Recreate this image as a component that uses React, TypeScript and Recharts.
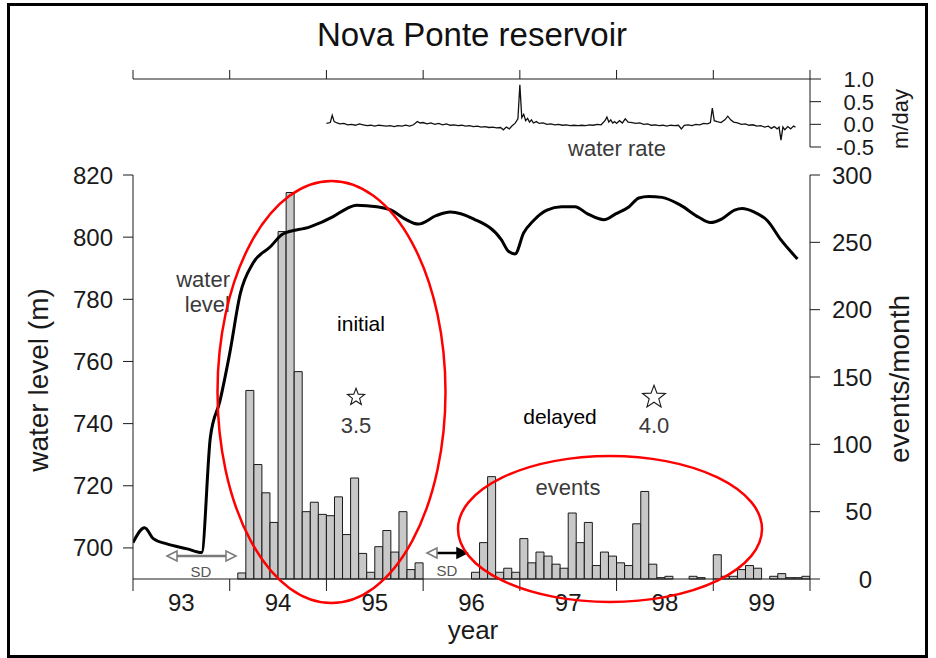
import React from "react";
import { ComposedChart, LineChart, Line, Bar, Scatter, XAxis, YAxis } from "recharts";

// monthly event counts; each list starts at the month noted
const events1994 = [4.5, 140, 85, 64, 42, 258, 287, 154, 50, 57, 48]; // Feb-Dec
const events1995 = [47, 61, 33, 75, 19, 5, 24, 36, 20, 50, 7, 12];
const events1996 = [5, 27, 76, 5, 8, 5]; // Jul-Dec
const events1997 = [30, 12, 20, 17, 11, 8, 49, 27, 42, 10, 20, 17];
const events1998 = [12, 10, 41, 65, 11, 1, 2, 0, 0, 2, 1, 0];
const events1999 = [18, 2, 2, 7, 10, 8, 0, 2, 4, 1, 1, 2];

// reservoir water level [decimal year, metres]
const waterLevel: [number, number][] = [
  [1993.0, 701.7], [1993.12, 706.5], [1993.21, 703.0], [1993.35, 701.3],
  [1993.56, 699.7], [1993.71, 698.5], [1993.8, 735.6], [1993.9, 747.4],
  [1994.0, 762.6], [1994.11, 781.9], [1994.24, 791.6], [1994.42, 796.9],
  [1994.55, 801.0], [1994.83, 803.3], [1995.07, 806.6], [1995.21, 809.2],
  [1995.31, 810.3], [1995.52, 809.8], [1995.67, 808.7], [1995.81, 805.9],
  [1995.95, 804.2], [1996.14, 807.0], [1996.28, 808.1], [1996.52, 805.9],
  [1996.81, 799.1], [1996.88, 795.5], [1996.95, 794.6], [1997.04, 801.4],
  [1997.14, 805.3], [1997.28, 808.7], [1997.43, 809.8], [1997.57, 809.8],
  [1997.7, 807.5], [1997.87, 805.6], [1997.99, 807.5], [1998.13, 809.8],
  [1998.23, 812.6], [1998.33, 813.1], [1998.47, 812.8], [1998.66, 810.3],
  [1998.85, 806.4], [1998.97, 804.7], [1999.09, 805.9], [1999.22, 808.7],
  [1999.3, 809.2], [1999.42, 808.1], [1999.56, 805.3], [1999.7, 799.1],
  [1999.87, 793.0],
];

// rate of water level change [decimal year, m/day]
const waterRate: [number, number][] = [
  [1995.0, 0.02], [1995.04, 0.04], [1995.06, 0.2], [1995.08, 0.06], [1995.11, 0.03],
  [1995.14, 0.01], [1995.18, 0.02], [1995.22, -0.01], [1995.26, 0.0], [1995.3, -0.02],
  [1995.34, 0.01], [1995.38, -0.01], [1995.42, -0.03], [1995.46, -0.02], [1995.5, -0.04],
  [1995.54, -0.02], [1995.58, -0.03], [1995.62, -0.04], [1995.66, -0.03], [1995.7, -0.05],
  [1995.74, -0.03], [1995.78, -0.04], [1995.82, -0.02], [1995.86, -0.04], [1995.9, -0.01],
  [1995.94, 0.06], [1995.97, 0.03], [1996.0, 0.04], [1996.04, 0.01], [1996.08, 0.03],
  [1996.12, 0.0], [1996.16, 0.02], [1996.2, -0.01], [1996.24, 0.01], [1996.28, -0.02],
  [1996.32, -0.01], [1996.36, -0.03], [1996.4, -0.02], [1996.44, -0.04], [1996.48, -0.03],
  [1996.52, -0.05], [1996.56, -0.04], [1996.6, -0.06], [1996.64, -0.05], [1996.68, -0.07],
  [1996.72, -0.06], [1996.76, -0.08], [1996.8, -0.07], [1996.83, -0.12], [1996.86, -0.06],
  [1996.89, -0.1], [1996.92, -0.03], [1996.95, 0.02], [1996.98, 0.12], [1997.0, 0.87],
  [1997.02, 0.15], [1997.04, 0.22], [1997.06, 0.08], [1997.08, 0.13], [1997.1, 0.05],
  [1997.12, 0.1], [1997.14, 0.03], [1997.17, 0.06], [1997.2, 0.02], [1997.24, 0.03],
  [1997.28, 0.0], [1997.32, 0.01], [1997.36, -0.01], [1997.4, 0.0], [1997.44, -0.02],
  [1997.48, -0.01], [1997.52, -0.03], [1997.56, -0.02], [1997.6, -0.03], [1997.64, -0.02],
  [1997.68, -0.03], [1997.72, -0.01], [1997.76, -0.02], [1997.8, 0.0], [1997.84, -0.01],
  [1997.88, 0.08], [1997.9, 0.16], [1997.92, 0.05], [1997.94, 0.1], [1997.96, 0.03],
  [1997.98, 0.06], [1998.0, 0.02], [1998.03, 0.08], [1998.06, 0.03], [1998.09, 0.12],
  [1998.12, 0.05], [1998.16, 0.04], [1998.2, 0.02], [1998.24, 0.03], [1998.28, 0.0],
  [1998.32, 0.01], [1998.36, -0.02], [1998.4, -0.01], [1998.44, -0.03], [1998.48, -0.02],
  [1998.52, -0.04], [1998.56, -0.02], [1998.6, -0.03], [1998.64, -0.02], [1998.67, -0.1],
  [1998.7, -0.02], [1998.74, -0.01], [1998.78, -0.03], [1998.82, 0.0], [1998.86, -0.01],
  [1998.9, 0.02], [1998.94, 0.01], [1998.97, 0.04], [1998.99, 0.36], [1999.01, 0.08],
  [1999.04, 0.06], [1999.08, 0.04], [1999.12, 0.1], [1999.15, 0.18], [1999.18, 0.1],
  [1999.21, 0.05], [1999.25, 0.03], [1999.29, 0.0], [1999.33, 0.01], [1999.37, -0.02],
  [1999.41, -0.01], [1999.45, -0.04], [1999.49, -0.03], [1999.53, -0.06], [1999.57, -0.04],
  [1999.6, -0.09], [1999.63, -0.05], [1999.66, -0.1], [1999.68, -0.06], [1999.7, -0.35],
  [1999.72, -0.06], [1999.74, -0.12], [1999.77, -0.05], [1999.8, -0.1], [1999.83, -0.04],
  [1999.85, -0.06],
];

// largest events: [decimal year, marker height in events/month, magnitude]
const bigEvents: [number, number, number][] = [
  [1995.306, 135, 3.5],
  [1998.387, 135, 4.0],
];

const yearTicks = [1993, 1994, 1995, 1996, 1997, 1998, 1999, 2000];
const yearLabels = ["93", "94", "95", "96", "97", "98", "99"];
const levelTicks = [700, 720, 740, 760, 780, 800, 820];
const eventTicks = [0, 50, 100, 150, 200, 250, 300];
const rateTicks = [-0.5, 0, 0.5, 1];

const FONT = "'Liberation Sans', Arial, Helvetica, sans-serif";
const INK = "#1a1a1a";
const GREY = "#3a3a3a";
const W = 936;
const H = 658;
const PLOT_LEFT = 133;
const PLOT_RIGHT = 810;
const HALF_YEAR = (PLOT_RIGHT - PLOT_LEFT) / 7 / 2;

const monthly = (year: number, firstMonth: number, counts: number[]) =>
  counts.map((n, i) => ({ t: year + (firstMonth - 1 + i + 0.5) / 12, ev: n }));

const eventRows = [
  ...monthly(1994, 2, events1994),
  ...monthly(1995, 1, events1995),
  ...monthly(1996, 7, events1996),
  ...monthly(1997, 1, events1997),
  ...monthly(1998, 1, events1998),
  ...monthly(1999, 1, events1999),
];
const levelRows = waterLevel.map(([t, level]) => ({ t, level }));
const rateRows = waterRate.map(([t, rate]) => ({ t, rate }));
const starRows = bigEvents.map(([t, ev, mag]) => ({ t, ev, mag }));

// year labels sit in the middle of each year, between the ticks
function YearLabel(props: any) {
  const { x, payload } = props;
  const i = yearTicks.indexOf(payload.value);
  if (i < 0 || i >= yearLabels.length) return <g />;
  return (
    <text x={x + HALF_YEAR} y={611} textAnchor="middle" fontSize={24} fill={INK} fontFamily={FONT}>
      {yearLabels[i]}
    </text>
  );
}

function EventsTick(props: any) {
  const { y, payload } = props;
  return (
    <text x={872} y={y} dy="0.36em" textAnchor="end" fontSize={24} fill={INK} fontFamily={FONT}>
      {payload.value}
    </text>
  );
}

function RateTick(props: any) {
  const { y, payload } = props;
  return (
    <text x={874} y={y} dy="0.36em" textAnchor="end" fontSize={22} fill={INK} fontFamily={FONT}>
      {Number(payload.value).toFixed(1)}
    </text>
  );
}

function starPoints(cx: number, cy: number, r: number) {
  const pts: string[] = [];
  for (let k = 0; k < 10; k++) {
    const rr = k % 2 === 0 ? r : r * 0.42;
    const a = -Math.PI / 2 + (k * Math.PI) / 5;
    pts.push(`${cx + rr * Math.cos(a)},${cy + rr * Math.sin(a)}`);
  }
  return pts.join(" ");
}

// open star sized by magnitude, with the magnitude written underneath
function StarMark(props: any) {
  const { cx, cy, payload } = props;
  const r = 6 * payload.mag - 12;
  return (
    <g>
      <polygon points={starPoints(cx, cy, r)} fill="#fff" stroke={INK} strokeWidth={1.1} />
      <text x={cx} y={cy + 36} textAnchor="middle" fontSize={22} fill={GREY} fontFamily={FONT}>
        {payload.mag.toFixed(1)}
      </text>
    </g>
  );
}

function head(x: number, y: number, dir: number, fill: string, stroke: string) {
  return (
    <polygon
      points={`${x},${y} ${x + dir * 10},${y - 5} ${x + dir * 10},${y + 5}`}
      fill={fill}
      stroke={stroke}
      strokeWidth={1.5}
      strokeLinejoin="miter"
    />
  );
}

export default function App() {
  const abs: React.CSSProperties = { position: "absolute", left: 0, top: 0 };
  return (
    <div style={{ position: "absolute", left: 0, top: 0, width: W, height: H, background: "#fff", fontFamily: FONT }}>
      <div
        style={{
          position: "absolute",
          left: 7,
          top: 3,
          width: 921,
          height: 655,
          border: "3px solid #000",
          boxSizing: "border-box",
        }}
      />

      {/* water rate panel */}
      <div style={abs}>
        <LineChart width={W} height={200} data={rateRows} margin={{ top: 59, right: 66, bottom: 53, left: PLOT_LEFT }}>
          <XAxis
            dataKey="t"
            type="number"
            orientation="top"
            height={20}
            domain={[1993, 2000]}
            ticks={yearTicks}
            interval={0}
            allowDataOverflow
            tickSize={9}
            stroke={INK}
            tick={() => <g />}
          />
          <YAxis
            orientation="right"
            width={60}
            domain={[-0.5, 1]}
            ticks={rateTicks}
            interval={0}
            allowDataOverflow
            tickSize={11}
            stroke={INK}
            tick={RateTick}
          />
          <Line
            dataKey="rate"
            type="linear"
            stroke="#111"
            strokeWidth={1.3}
            dot={false}
            isAnimationActive={false}
          />
        </LineChart>
      </div>

      {/* monthly event histogram with year axis and events axis */}
      <div style={abs}>
        <ComposedChart
          width={W}
          height={H}
          data={eventRows}
          barCategoryGap={0}
          barGap={0}
          margin={{ top: 175, right: 66, bottom: 39, left: PLOT_LEFT }}
        >
          <XAxis
            dataKey="t"
            type="number"
            height={40}
            domain={[1993, 2000]}
            ticks={yearTicks}
            interval={0}
            allowDataOverflow
            tickSize={12}
            stroke={INK}
            tick={YearLabel}
          />
          <YAxis
            yAxisId="ev"
            orientation="right"
            width={60}
            domain={[0, 300]}
            ticks={eventTicks}
            interval={0}
            tickSize={10}
            stroke={INK}
            tick={EventsTick}
          />
          <Bar
            yAxisId="ev"
            dataKey="ev"
            fill="#c8c8c8"
            stroke="#1a1a1a"
            strokeWidth={1}
            isAnimationActive={false}
          />
        </ComposedChart>
      </div>

      {/* water level curve and largest-event markers */}
      <div style={abs}>
        <ComposedChart
          width={W}
          height={H}
          data={levelRows}
          margin={{ top: 175, right: W - PLOT_RIGHT, bottom: 79, left: PLOT_LEFT - 60 }}
        >
          <XAxis dataKey="t" type="number" domain={[1993, 2000]} allowDataOverflow hide />
          <YAxis
            yAxisId="lv"
            width={60}
            domain={[690, 820]}
            ticks={levelTicks}
            interval={0}
            allowDataOverflow
            tickSize={10}
            tickMargin={10}
            stroke={INK}
            tick={{ fontSize: 24, fill: INK, fontFamily: FONT }}
          />
          <YAxis yAxisId="ev" orientation="right" domain={[0, 300]} hide />
          <Line
            yAxisId="lv"
            dataKey="level"
            type="monotone"
            stroke="#000"
            strokeWidth={3}
            dot={false}
            isAnimationActive={false}
          />
          <Scatter
            yAxisId="ev"
            data={starRows}
            dataKey="ev"
            shape={StarMark}
            isAnimationActive={false}
          />
        </ComposedChart>
      </div>

      {/* titles and annotations */}
      <svg width={W} height={H} style={{ ...abs, pointerEvents: "none" }} fontFamily={FONT}>
        <text x={472} y={46} textAnchor="middle" fontSize={33} fill="#111">
          Nova Ponte reservoir
        </text>
        <text x={617} y={156} textAnchor="middle" fontSize={22} fill={GREY}>
          water rate
        </text>
        <text transform="translate(908,119) rotate(-90)" textAnchor="middle" fontSize={22} fill={INK}>
          m/day
        </text>
        <text transform="translate(48,380) rotate(-90)" textAnchor="middle" fontSize={28} fill={INK}>
          water level (m)
        </text>
        <text transform="translate(909,379) rotate(-90)" textAnchor="middle" fontSize={28} fill={INK}>
          events/month
        </text>
        <text x={473} y={639} textAnchor="middle" fontSize={26} fill={INK}>
          year
        </text>

        <text x={230} y={287} textAnchor="end" fontSize={22} fill={GREY}>
          water
        </text>
        <text x={230} y={312} textAnchor="end" fontSize={22} fill={GREY}>
          level
        </text>
        <text x={361} y={331} textAnchor="middle" fontSize={21} fill="#000">
          initial
        </text>
        <text x={560} y={424} textAnchor="middle" fontSize={21} fill="#000">
          delayed
        </text>
        <text x={568} y={495} textAnchor="middle" fontSize={22} fill={GREY}>
          events
        </text>

        {/* SD intervals */}
        <line x1={172} y1={556} x2={231} y2={556} stroke="#7a7a7a" strokeWidth={2.5} />
        {head(167, 556, 1, "#fff", "#7a7a7a")}
        {head(236, 556, -1, "#fff", "#7a7a7a")}
        <text x={201} y={577} textAnchor="middle" fontSize={15} fill="#555">
          SD
        </text>
        <line x1={432} y1={553} x2={462} y2={553} stroke="#000" strokeWidth={2.5} />
        {head(427, 553, 1, "#fff", "#7a7a7a")}
        {head(467, 553, -1, "#000", "#000")}
        <text x={447} y={576} textAnchor="middle" fontSize={15} fill="#555">
          SD
        </text>

        <ellipse cx={331.5} cy={392} rx={114} ry={211} fill="none" stroke="#f00" strokeWidth={2.5} />
        <ellipse cx={610} cy={529} rx={152} ry={73} fill="none" stroke="#f00" strokeWidth={2.5} />
      </svg>
    </div>
  );
}
